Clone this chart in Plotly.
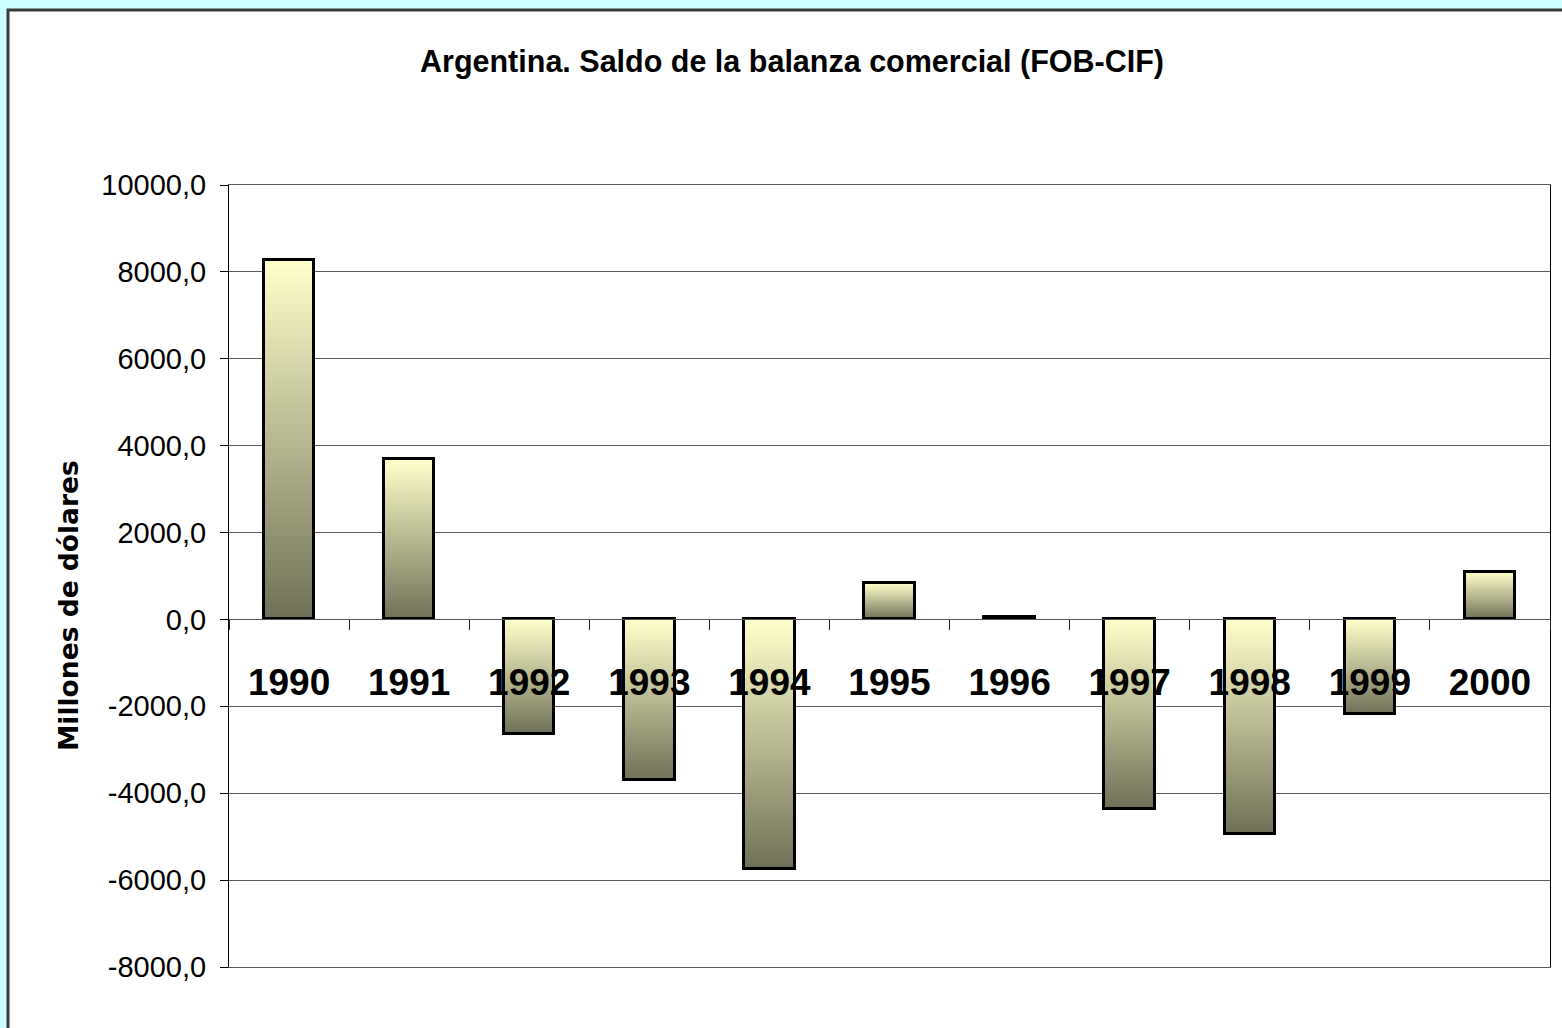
import plotly.graph_objects as go

# ---- data ----
years = ["1990", "1991", "1992", "1993", "1994", "1995", "1996", "1997", "1998", "1999", "2000"]
saldo = [8275, 3703, -2637, -3695, -5751, 841, 50, -4360, -4944, -2170, 1100]

y_tick_vals = [-8000, -6000, -4000, -2000, 0, 2000, 4000, 6000, 8000, 10000]
y_tick_text = ["-8000,0", "-6000,0", "-4000,0", "-2000,0", "0,0", "2000,0",
               "4000,0", "6000,0", "8000,0", "10000,0"]
y_range = [-8000, 10000]

title_text = "Argentina. Saldo de la balanza comercial (FOB-CIF)"
y_title = "Millones de dólares"

# ---- styling ----
W, H = 1562, 1028
L, R, T, B = 229, 12, 185, 61
BG = "#CCFFFF"
LIGHT = (255, 255, 204)
DARK = (112, 112, 88)
N = 48
BAR_W = 0.42
FONT = "Liberation Sans, Arial, sans-serif"


def lerp(c1, c2, t):
    return "rgb(%d,%d,%d)" % tuple(round(a + (b - a) * t) for a, b in zip(c1, c2))


fig = go.Figure()

# gradient via overlaid bars of decreasing height
for k in range(N, 0, -1):
    frac = k / N
    t = (k - 0.5) / N
    cols = [lerp(DARK, LIGHT, t) if v >= 0 else lerp(LIGHT, DARK, t) for v in saldo]
    fig.add_trace(go.Bar(
        x=years, y=[v * frac for v in saldo], width=BAR_W,
        marker=dict(color=cols, line=dict(width=0)),
        hoverinfo="skip", showlegend=False,
    ))

# outline
fig.add_trace(go.Bar(
    x=years, y=saldo, width=BAR_W,
    marker=dict(color="rgba(0,0,0,0)", line=dict(color="black", width=3)),
    hoverinfo="skip", showlegend=False,
))

plot_w = W - L - R
plot_h = H - T - B
zero_pos = (0 - y_range[0]) / (y_range[1] - y_range[0])


def px_x(px):  # screen pixel -> paper x
    return (px - L) / plot_w


def px_y(py):  # screen pixel -> paper y
    return (H - B - py) / plot_h


fig.update_layout(
    width=W, height=H, autosize=False,
    margin=dict(l=L, r=R, t=T, b=B, pad=0),
    paper_bgcolor=BG,
    plot_bgcolor="rgba(0,0,0,0)",
    barmode="overlay",
    bargap=0,
    font=dict(family=FONT, color="black"),
    xaxis=dict(
        type="category",
        anchor="free", position=zero_pos,
        showline=True, linecolor="#555555", linewidth=1,
        ticks="outside", ticklen=10, tickcolor="#222222", tickwidth=1,
        tickson="boundaries",
        showgrid=False,
        tickfont=dict(family=FONT, size=37, color="black", weight="bold"),
        ticklabelstandoff=30,
        fixedrange=True,
    ),
    xaxis2=dict(
        overlaying="x", anchor="y", side="bottom",
        showline=True, mirror=True, linecolor="#5a5a5a", linewidth=1,
        showticklabels=False, ticks="", showgrid=False, zeroline=False,
        range=[0, 1], fixedrange=True,
    ),
    yaxis=dict(
        range=y_range,
        tickmode="array", tickvals=y_tick_vals, ticktext=y_tick_text,
        showline=True, linecolor="black", linewidth=1, mirror=True,
        ticks="outside", ticklen=8, tickcolor="black",
        showgrid=True, gridcolor="#5a5a5a", gridwidth=1,
        zeroline=False,
        tickfont=dict(family=FONT, size=29, color="black"),
        ticklabelstandoff=8,
        fixedrange=True,
    ),
    shapes=[dict(
        type="rect", xref="paper", yref="paper", layer="below",
        x0=px_x(8), x1=1.2,
        y0=-0.3, y1=px_y(10),
        fillcolor="white", line=dict(color="#3a3a3a", width=3),
    )],
    annotations=[
        dict(text="<b>%s</b>" % title_text, xref="paper", yref="paper",
             x=px_x(792), y=px_y(62),
             xanchor="center", yanchor="middle", showarrow=False,
             font=dict(family=FONT, size=30.5, color="black")),
        dict(text="<b>%s</b>" % y_title, xref="paper", yref="paper",
             x=px_x(68), y=px_y(606),
             xanchor="center", yanchor="middle", showarrow=False, textangle=-90,
             font=dict(family="DejaVu Sans, Arial, sans-serif", size=26.5, color="black")),
    ],
)

# invisible trace to activate the frame axis
fig.add_trace(go.Scatter(x=[None], y=[None], xaxis="x2", yaxis="y",
                         showlegend=False, hoverinfo="skip"))

fig.write_html(
    "out.html",
    config={"displayModeBar": False},
    post_script="document.body.style.margin='0';document.body.style.overflow='hidden';"
                "document.body.style.background='%s';" % BG,
)
